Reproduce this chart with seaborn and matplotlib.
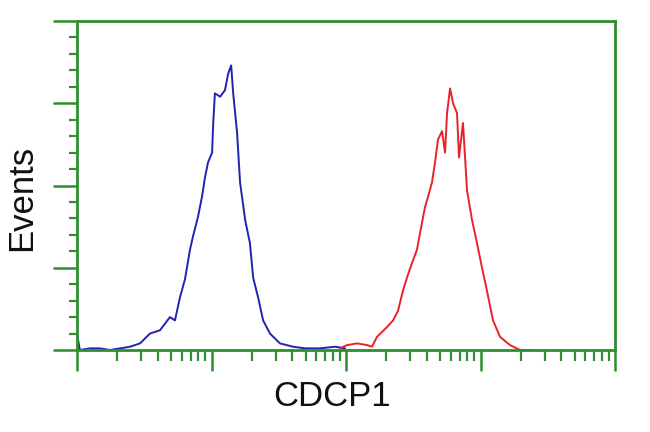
import matplotlib
matplotlib.use("Agg")
import matplotlib.pyplot as plt
import seaborn as sns
import pandas as pd
from matplotlib.ticker import LogLocator, MultipleLocator, NullFormatter

# Isotype / control histogram (blue)
blue_x = [1.0, 1.05, 1.25, 1.48, 1.76, 2.09, 2.48, 2.94, 3.49, 4.14, 4.91, 5.35, 5.83,
          6.35, 6.92, 7.28, 7.94, 8.49, 8.95, 9.42, 10.1, 10.3, 10.6, 11.6, 12.6, 13.3,
          14.0, 14.5, 15.5, 16.3, 17.8, 19.3, 20.4, 22.2, 24.2, 27.2, 32.3, 40.4, 49.6,
          64.1, 82.8, 98.4]
blue_y = [10, 0, 1, 1, 0, 1, 2, 4, 10, 12, 20, 18, 32,
          43, 61, 69, 81, 93, 105, 114, 120, 138, 156, 154, 158, 168,
          173, 156, 132, 102, 79, 65, 44, 32, 18, 10, 4, 2, 1,
          1, 2, 1]

# CDCP1 stained histogram (red)
red_x = [90.2, 102, 121, 143, 156, 170, 202, 224, 244, 265, 284, 310, 337, 355, 387,
         407, 436, 459, 483, 518, 545, 564, 594, 625, 669, 692, 741, 794, 865, 942,
         1026, 1117, 1239, 1397, 1657, 1966, 2335]
red_y = [1, 3, 4, 3, 2, 8, 14, 18, 24, 36, 44, 53, 61, 71, 87,
         93, 102, 114, 128, 133, 120, 144, 159, 150, 144, 117, 138, 97, 79, 65,
         50, 36, 18, 8, 3, 0, 0]

x_label = "CDCP1"
y_label = "Events"

green = "#2f8f2f"

sns.set_style("white")
plt.rcParams["font.family"] = ["Liberation Sans", "DejaVu Sans"]

fig = plt.figure(figsize=(6.5, 4.32), dpi=100)
ax = fig.add_axes([77/650, 1 - 350/432, 538/650, 329/432])

df_b = pd.DataFrame({"x": blue_x, "y": blue_y})
df_r = pd.DataFrame({"x": red_x, "y": red_y})
sns.lineplot(data=df_b, x="x", y="y", ax=ax, color="#2222b0", linewidth=1.4,
             estimator=None, sort=False)
sns.lineplot(data=df_r, x="x", y="y", ax=ax, color="#e8222a", linewidth=1.4,
             estimator=None, sort=False)

ax.set_xscale("log")
ax.set_xlim(1, 1e4)
ax.set_ylim(0, 200)

ax.xaxis.set_major_locator(LogLocator(base=10, numticks=10))
ax.xaxis.set_minor_locator(LogLocator(base=10, subs=range(2, 10), numticks=20))
ax.yaxis.set_major_locator(MultipleLocator(50))
ax.yaxis.set_minor_locator(MultipleLocator(10))
ax.xaxis.set_major_formatter(NullFormatter())
ax.xaxis.set_minor_formatter(NullFormatter())
ax.yaxis.set_major_formatter(NullFormatter())

for s in ax.spines.values():
    s.set_color(green)
    s.set_linewidth(2)

ax.tick_params(axis="x", which="major", direction="out", length=15, width=1.8,
               color=green, bottom=True)
ax.tick_params(axis="x", which="minor", direction="out", length=8, width=1.6,
               color=green, bottom=True)
ax.tick_params(axis="y", which="major", direction="out", length=17, width=1.8,
               color=green, left=True)
ax.tick_params(axis="y", which="minor", direction="out", length=6, width=1.6,
               color=green, left=True)

ax.set_xlabel(x_label, fontsize=25, color="#111111")
ax.set_ylabel(y_label, fontsize=25, color="#111111")
ax.xaxis.set_label_coords(0.474, -0.09)
ax.yaxis.set_label_coords(-0.072, 0.462)

fig.savefig("out.png", dpi=100, facecolor="white")
